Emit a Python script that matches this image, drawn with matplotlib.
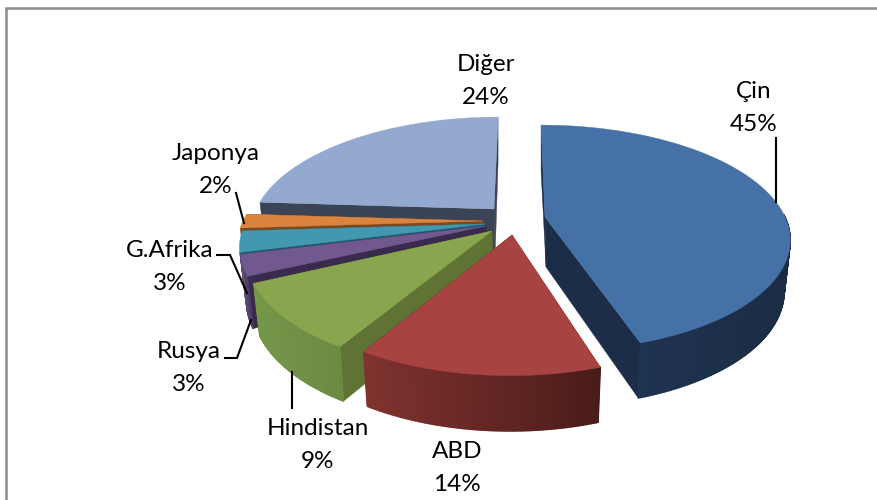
import numpy as np
import matplotlib
matplotlib.use("Agg")
import matplotlib.pyplot as plt
from matplotlib.patches import Polygon
from matplotlib.collections import PolyCollection
from matplotlib.colors import to_rgb

# ---- data ----
categories = ["Çin", "ABD", "Hindistan", "Rusya", "G.Afrika", "Japonya", "Diğer"]
values = [45, 13.6, 9.4, 3, 3, 2, 24]

# ---- style / layout ----
top_colors = ["#4571A7", "#A74442", "#89A54E", "#71588F", "#4298AF", "#DB843D", "#93A9CF"]
face_colors = ["#1C2E47", "#4E1F1C", "#5F7434", "#3A2A4D", "#1F5A6A", "#7A4A20", "#3B4456"]
wall_left = ["#22395A", "#80332F", "#76964A", "#5C4775", "#2F7385", "#A5622B", "#5A6A85"]
wall_right = ["#1B2C44", "#4A1C19", "#6C8A40", "#4A3860", "#2F7385", "#A5622B", "#5A6A85"]
apex_x = [545, 512, 492, 486, 485, 483, 494]
apex_y = [217, 235, 231, 226, 224, 221, 209]
ry_scale = [1.0, 1.05, 1.04, 1.0, 1.0, 1.0, 1.0]
rx_scale = [1.0, 1.0, 1.0, 1.0, 1.0, 1.0, 0.99]
show_wall = [True, True, True, True, False, False, False]
RX, RY, PERSP, DEPTH, VX = 240, 109, 0.186, 50, 520

label_x = [754, 457, 318, 189, 170, 216, 486]
label_y = [108, 468, 445, 368, 267, 170, 81]
leaders = {
    "Çin": ([776, 776], [138, 202]),
    "Hindistan": ([292, 292], [372, 408]),
    "Rusya": ([225, 237, 251], [358, 358, 320]),
    "G.Afrika": ([217, 230, 247], [255, 255, 293]),
    "Japonya": ([236, 244], [193, 223]),
}


def project(i, theta, lower=False):
    """Perspective projection of a rim point (theta clockwise from the back)."""
    ax0, ay0 = apex_x[i], apex_y[i]
    u, v = np.sin(theta), -np.cos(theta)
    w = 1 - PERSP * v
    shrink = 0.975 if lower else 1.0
    x = ax0 + RX * rx_scale[i] * u / w * shrink + (VX - ax0) * (1 - 1 / w)
    y = ay0 + RY * ry_scale[i] * v / w
    if lower:
        y = y + DEPTH * w ** -0.5
    return x, y


fig = plt.figure(figsize=(8.78, 5.0), dpi=100)
ax = fig.add_axes([0, 0, 1, 1])
ax.set_xlim(0, 878)
ax.set_ylim(500, 0)
ax.axis("off")
fig.patch.set_facecolor("white")

# frame: only the top and left edges fall inside the picture
ax.plot([6.5, 6.5, 878], [500, 7.5, 7.5], color="#8C8C8C", lw=1.8,
        solid_joinstyle="miter", zorder=1)

total = sum(values)
edges = np.cumsum([0] + values) / total * 2 * np.pi
# painter's order: back slices first
order = [6, 5, 4, 3, 2, 1, 0]
z = 2
for i in order:
    t0, t1 = edges[i], edges[i + 1]
    cx, cy = apex_x[i], apex_y[i]
    bx, by = cx + 1, cy + DEPTH
    ts = np.linspace(t0, t1, max(int(np.degrees(t1 - t0)) * 2, 8))
    tx, ty = project(i, ts)
    lx, ly = project(i, ts, lower=True)
    # radial side faces
    for end_i in (0, -1):
        face = [(cx, cy), (tx[end_i], ty[end_i]), (lx[end_i], ly[end_i]), (bx, by)]
        ax.add_patch(Polygon(face, closed=True, fc=face_colors[i], ec=face_colors[i],
                             lw=0.3, zorder=z))
        z += 1
    # outer wall, with a left-to-right shade
    if show_wall[i]:
        quads, cols = [], []
        c_l, c_r = np.array(to_rgb(wall_left[i])), np.array(to_rgb(wall_right[i]))
        xmin, xmax = tx.min(), tx.max()
        for k in range(len(ts) - 1):
            if np.cos((ts[k] + ts[k + 1]) / 2) > 0.02:
                continue
            quads.append([(tx[k], ty[k]), (tx[k + 1], ty[k + 1]),
                          (lx[k + 1], ly[k + 1]), (lx[k], ly[k])])
            f = ((tx[k] + tx[k + 1]) / 2 - xmin) / max(xmax - xmin, 1)
            cols.append(c_l * (1 - f) + c_r * f)
        if quads:
            ax.add_collection(PolyCollection(quads, facecolors=cols, edgecolors=cols,
                                             linewidths=1.0, zorder=z))
            z += 1
    # top surface
    pts = [(cx, cy)] + list(zip(tx, ty))
    ax.add_patch(Polygon(pts, closed=True, fc=top_colors[i], ec=top_colors[i],
                         lw=0.3, zorder=z))
    z += 1

# leader lines
for name, (xs, ys) in leaders.items():
    ax.plot(xs, ys, color="black", lw=1.5, zorder=z, solid_joinstyle="miter")

# labels
for name, val, x, y in zip(categories, values, label_x, label_y):
    ax.text(x, y, f"{name}\n{val:.0f}%", ha="center", va="center", fontsize=17.5,
            family="Lato", color="black", linespacing=1.65, zorder=z + 1)

fig.savefig("out.png", dpi=100, facecolor="white")
